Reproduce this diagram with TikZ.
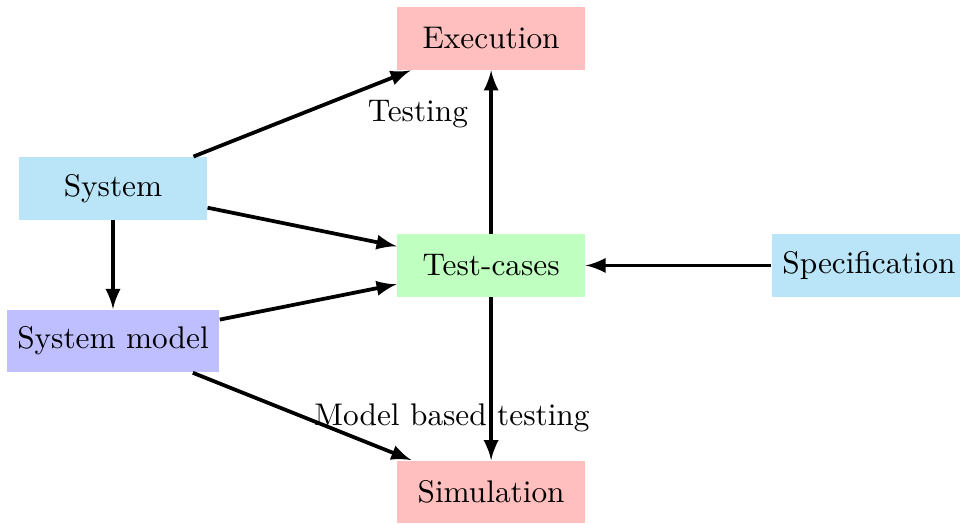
\documentclass[tikz,border=0pt]{standalone}
\usepackage{amsmath}
\usepackage{tikz}
\usetikzlibrary{arrows,calc}

\definecolor{skyfill}{RGB}{186,228,248}

\tikzset{
    block/.style={minimum width=60pt, minimum height=20pt},
    flow/.style={->, >=latex, very thick}
}

\begin{document}
\begin{tikzpicture}[x=1pt, y=1pt]
        \useasboundingbox (0,0) rectangle (306.7,-167.1);
        \node[block, fill=red!25] (exec) at (156.9,-12.3) {Execution};
        \node[block, fill=skyfill] (sys) at (36.1,-60.2) {System};
        \node[block, fill=green!25] (tc) at (156.9,-84.8) {Test-cases};
        \node[block, fill=skyfill] (spec) at (277.6,-84.8) {Specification};
        \node[block, fill=blue!25] (model) at (36.1,-108.9) {System model};
        \node[block, fill=red!25] (sim) at (156.9,-157.2) {Simulation};
        \node (testing) at (133.5,-36.5) {Testing};
        \node (mbt) at (144.4,-133.4) {Model based testing};
        \draw[flow] (sys) -- (exec);
        \draw[flow] (sys) -- (tc);
        \draw[flow] (sys) -- (model);
        \draw[flow] (model) -- (tc);
        \draw[flow] (model) -- (sim);
        \draw[flow] (tc) -- (exec);
        \draw[flow] (tc) -- (sim);
        \draw[flow] (spec) -- (tc);
    \end{tikzpicture}
\end{document}
